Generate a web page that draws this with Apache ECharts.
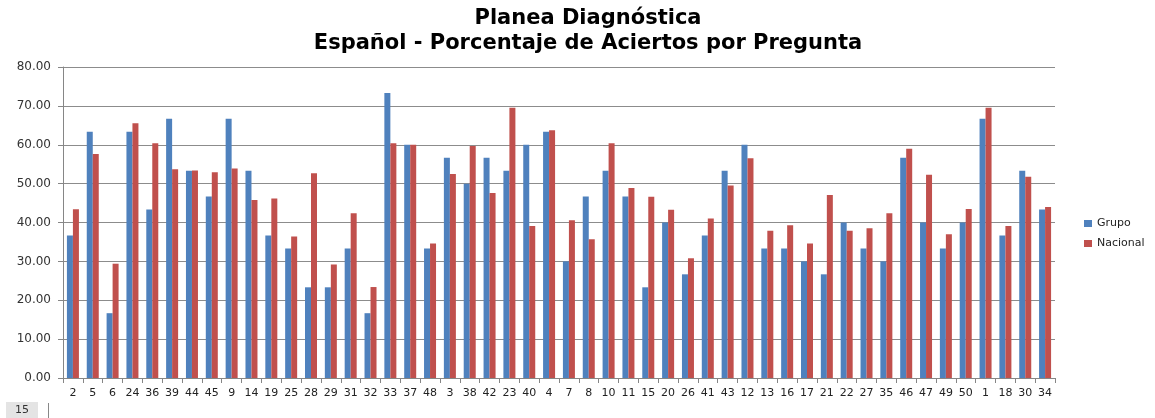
<!DOCTYPE html>
<html><head><meta charset="utf-8">
<script src="https://cdn.jsdelivr.net/npm/echarts@6/dist/echarts.min.js"></script>
<style>html,body{margin:0;padding:0;background:#fff}#c{width:1155px;height:418px}</style>
</head><body><div id="c"></div>
<script>
const categories = ['2','5','6','24','36','39','44','45','9','14','19','25','28','29','31','32','33','37','48','3','38','42','23','40','4','7','8','10','11','15','20','26','41','43','12','13','16','17','21','22','27','35','46','47','49','50','1','18','30','34'];
const grupo = [36.67,63.33,16.67,63.33,43.33,66.67,53.33,46.67,66.67,53.33,36.67,33.33,23.33,23.33,33.33,16.67,73.33,60.00,33.33,56.67,50.00,56.67,53.33,60.00,63.33,30.00,46.67,53.33,46.67,23.33,40.00,26.67,36.67,53.33,60.00,33.33,33.33,30.00,26.67,40.00,33.33,30.00,56.67,40.00,33.33,40.00,66.67,36.67,53.33,43.33];
const nacional = [43.4,57.6,29.4,65.5,60.4,53.7,53.4,52.9,53.9,45.8,46.2,36.4,52.7,29.2,42.4,23.4,60.4,60.0,34.6,52.5,59.7,47.6,69.5,39.1,63.7,40.6,35.7,60.4,48.9,46.6,43.3,30.8,41.0,49.5,56.5,37.9,39.3,34.6,47.1,37.9,38.5,42.4,59.0,52.3,37.0,43.5,69.5,39.1,51.8,44.0];
const yTicks = {min:0, max:80, interval:10};
const titleLines = ['Planea Diagnóstica','Español - Porcentaje de Aciertos por Pregunta'];

const chart = echarts.init(document.getElementById('c'), null, {renderer:'canvas'});
chart.setOption({
  animation:false,
  backgroundColor:'#fff',
  title:{
    text: titleLines.join('\n'),
    left: 583, textAlign:'center', top: 1,
    textStyle:{fontFamily:'DejaVu Sans', fontWeight:'bold', fontSize:21, lineHeight:25, color:'#000'}
  },
  legend:{
    orient:'vertical', left:1079, top:213, itemWidth:8, itemHeight:7, itemGap:9,
    icon:'rect',
    textStyle:{fontFamily:'DejaVu Sans', fontSize:11, color:'#222', padding:[0,0,0,0]},
    data:['Grupo','Nacional']
  },
  grid:{left:63, right:100, top:67, bottom:40, containLabel:false},
  xAxis:{
    type:'category', data:categories,
    axisLine:{lineStyle:{color:'#868686'}},
    axisTick:{show:true, alignWithLabel:false, length:5, lineStyle:{color:'#868686'}},
    axisLabel:{interval:0, fontFamily:'DejaVu Sans', fontSize:11, color:'#222', margin:10}
  },
  yAxis:{
    type:'value', min:yTicks.min, max:yTicks.max, interval:yTicks.interval,
    axisLine:{show:true, lineStyle:{color:'#868686'}},
    axisTick:{show:true, length:5, lineStyle:{color:'#868686'}},
    splitLine:{lineStyle:{color:'#8c8c8c', width:1}},
    axisLabel:{formatter:v=>v.toFixed(2), fontFamily:'DejaVu Sans', fontSize:12, color:'#333', margin:12}
  },
  series:[
    {name:'Grupo', type:'bar', data:grupo, barWidth:6, barGap:'0%', itemStyle:{color:'#4F81BD'}},
    {name:'Nacional', type:'bar', data:nacional, barWidth:6, barGap:'0%', itemStyle:{color:'#C0504D'}}
  ],
  graphic:[
    {type:'rect', shape:{x:6, y:402, width:32, height:16}, style:{fill:'#e4e4e4'}},
    {type:'text', x:22, y:410, style:{text:'15', fontFamily:'DejaVu Sans', fontSize:11, fill:'#333', textAlign:'center', textVerticalAlign:'middle'}},
    {type:'line', shape:{x1:48.5, y1:403, x2:48.5, y2:418}, style:{stroke:'#888', lineWidth:1}}
  ]
});
</script></body></html>
